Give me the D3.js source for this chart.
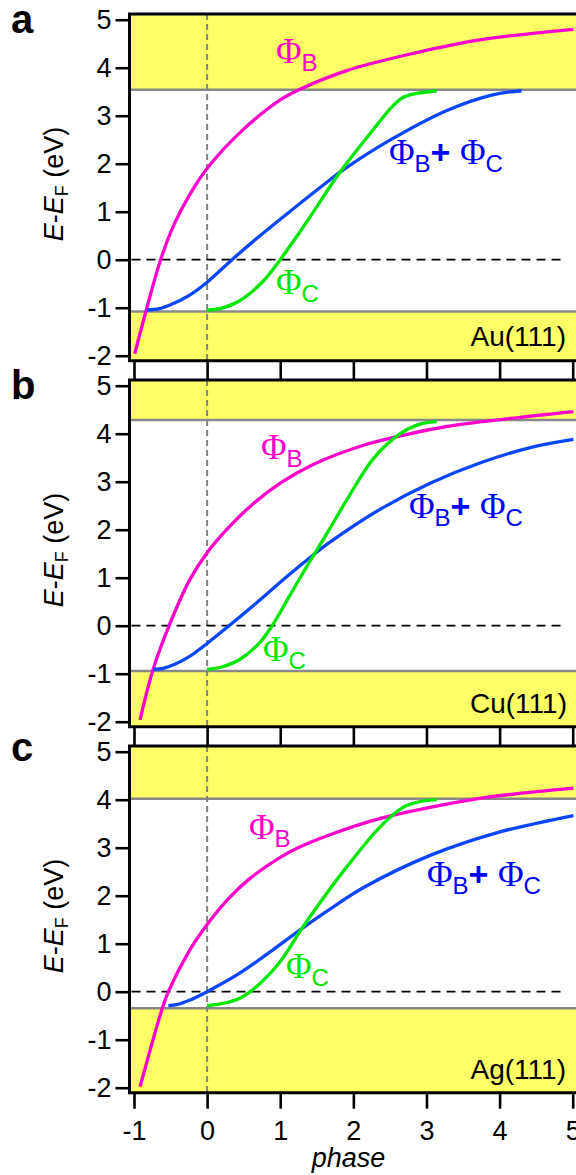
<!DOCTYPE html>
<html><head><meta charset="utf-8">
<script src="https://cdn.jsdelivr.net/npm/d3@7"></script>
<style>
body{margin:0;background:#fff}
svg{display:block}
text{font-family:"Liberation Sans",Arial,sans-serif}
</style>
</head><body>
<svg id="chart" width="576" height="1175"></svg>
<script>
// ---------- data ----------
const surfaces = ["Au(111)", "Cu(111)", "Ag(111)"];
const panelLetters = ["a", "b", "c"];
const xTickValues = [-1, 0, 1, 2, 3, 4, 5];
const yTickValues = [-2, -1, 0, 1, 2, 3, 4, 5];
const gapTop = [3.54, 4.285, 4.02];        // upper band edge (eV)
const gapBottom = [-1.08, -0.944, -0.346]; // lower band edge (eV)

// Au(111)
const auPhiBPhase = [-0.99, -0.82, -0.636, -0.45, -0.24, 0.02, 0.5, 1.0, 1.27, 1.91, 2.82, 3.73, 5.01];
const auPhiBE     = [-1.96, -0.98, 0, 0.74, 1.35, 1.94, 2.72, 3.33, 3.55, 3.94, 4.30, 4.58, 4.80];
const auSumPhase  = [-0.825, -0.65, -0.5, -0.25, 0, 0.34, 0.66, 1.12, 1.66, 1.87, 2.5, 3.28, 3.92, 4.30];
const auSumE      = [-1.05, -1.02, -0.94, -0.75, -0.47, 0, 0.42, 0.99, 1.64, 1.88, 2.49, 3.11, 3.44, 3.52];
const auPhiCPhase = [0, 0.2, 0.44, 0.76, 1.0, 1.26, 1.49, 1.67, 1.87, 2.23, 2.55, 2.68, 2.82, 3.14];
const auPhiCE     = [-1.05, -1.01, -0.86, -0.46, 0, 0.56, 1.08, 1.50, 1.93, 2.63, 3.22, 3.38, 3.45, 3.52];

// Cu(111)
const cuPhiBPhase = [-0.917, -0.74, -0.52, -0.24, 0, 0.26, 0.6, 1.0, 1.45, 2.14, 2.69, 3.28, 4.10, 5.01];
const cuPhiBE     = [-1.96, -0.92, 0, 0.95, 1.52, 1.99, 2.5, 2.97, 3.36, 3.76, 3.97, 4.15, 4.31, 4.46];
const cuSumPhase  = [-0.74, -0.6, -0.45, -0.25, 0, 0.30, 0.67, 1.12, 1.49, 1.67, 2.37, 3.05, 3.73, 4.42, 5.01];
const cuSumE      = [-0.91, -0.89, -0.81, -0.65, -0.37, 0, 0.47, 1.06, 1.52, 1.73, 2.43, 2.97, 3.39, 3.71, 3.88];
const cuPhiCPhase = [0, 0.2, 0.44, 0.71, 0.89, 1.12, 1.35, 1.49, 1.65, 1.91, 2.28, 2.64, 2.91, 3.14];
const cuPhiCE     = [-0.91, -0.86, -0.71, -0.37, 0, 0.6, 1.2, 1.55, 1.95, 2.62, 3.49, 4.0, 4.2, 4.25];

// Ag(111)
const agPhiBPhase = [-0.917, -0.62, -0.53, -0.24, 0, 0.28, 0.57, 1.0, 1.23, 1.68, 2.37, 3.05, 3.73, 5.01];
const agPhiBE     = [-1.98, -0.38, 0, 0.86, 1.40, 1.92, 2.34, 2.8, 2.99, 3.27, 3.61, 3.84, 4.03, 4.24];
const agSumPhase  = [-0.53, -0.4, -0.25, 0, 0.44, 0.89, 1.31, 1.67, 2.14, 3.05, 3.96, 5.01];
const agSumE      = [-0.29, -0.265, -0.185, 0, 0.38, 0.86, 1.33, 1.71, 2.17, 2.84, 3.31, 3.67];
const agPhiCPhase = [0, 0.2, 0.44, 0.67, 1.0, 1.31, 1.67, 1.91, 2.37, 2.69, 2.91, 3.14];
const agPhiCE     = [-0.29, -0.25, -0.14, 0.1, 0.63, 1.35, 2.12, 2.6, 3.44, 3.85, 3.96, 4.0];

const phiB = [[auPhiBPhase, auPhiBE], [cuPhiBPhase, cuPhiBE], [agPhiBPhase, agPhiBE]];
const phiSum = [[auSumPhase, auSumE], [cuSumPhase, cuSumE], [agSumPhase, agSumE]];
const phiC = [[auPhiCPhase, auPhiCE], [cuPhiCPhase, cuPhiCE], [agPhiCPhase, agPhiCE]];

// ---------- layout ----------
const panelStep = 366;
const frameLeft = 129.5, frameRight = 582;
const frameTopRel = 14, frameBotRel = 360.7;
const x = d3.scaleLinear().domain([-1, 5]).range([134, 572.7]);
const col = {B: "#ff00cc", sum: "#0a46ff", sumText: "#0000ff", C: "#00e600",
             yellow: "#ffff66", gray: "#888888"};
const labelLayout = [
  {B: [276, 63], S: [389, 164], C: [276, 294], M: [566, 346], L: 33},
  {B: [261, 93], S: [409, 152], C: [263, 295], M: [567, 347], L: 33},
  {B: [249, 107], S: [427, 154], C: [286, 246], M: [566, 347], L: 29}
];
const serif = "'Liberation Serif','Times New Roman',serif";

const svg = d3.select("#chart");

function phiLabel(g, pos, color, sub, plus) {
  const t = g.append("text").attr("x", pos[0]).attr("y", pos[1]).attr("fill", color);
  t.append("tspan").attr("font-family", serif).attr("font-size", 35).text("Φ");
  t.append("tspan").attr("font-size", 24).attr("dy", 8).text(sub[0]);
  if (plus) {
    t.append("tspan").attr("font-size", 34).attr("font-weight", "bold").attr("dy", -8).text("+ ");
    t.append("tspan").attr("font-family", serif).attr("font-size", 35).text("Φ");
    t.append("tspan").attr("font-size", 24).attr("dy", 8).text(sub[1]);
  }
}

surfaces.forEach((name, i) => {
  const off = i * panelStep;
  const y = d3.scaleLinear().domain([-2, 5]).range([355.7 + off, 19.7 + off]);
  const top = frameTopRel + off, bot = frameBotRel + off;
  const g = svg.append("g");

  // bands
  g.append("rect").attr("x", frameLeft).attr("y", top).attr("width", frameRight - frameLeft)
    .attr("height", y(gapTop[i]) - top).attr("fill", col.yellow);
  g.append("rect").attr("x", frameLeft).attr("y", y(gapBottom[i])).attr("width", frameRight - frameLeft)
    .attr("height", bot - y(gapBottom[i])).attr("fill", col.yellow);
  [gapTop[i], gapBottom[i]].forEach(v => {
    g.append("line").attr("x1", frameLeft).attr("x2", frameRight)
      .attr("y1", y(v)).attr("y2", y(v)).attr("stroke", col.gray).attr("stroke-width", 2.6);
  });

  // reference lines
  g.append("line").attr("x1", x(0)).attr("x2", x(0)).attr("y1", top).attr("y2", bot)
    .attr("stroke", "#808080").attr("stroke-width", 2).attr("stroke-dasharray", "6,4");
  g.append("line").attr("x1", frameLeft + 2).attr("x2", x(4.85)).attr("y1", y(0)).attr("y2", y(0))
    .attr("stroke", "#000").attr("stroke-width", 1.8).attr("stroke-dasharray", "9,6");

  // curves
  const line = d3.line().x(d => x(d[0])).y(d => y(d[1])).curve(d3.curveCatmullRom.alpha(0.5));
  const series = [[phiB[i], col.B], [phiSum[i], col.sum], [phiC[i], col.C]];
  series.forEach(([s, c]) => {
    const pts = s[0].map((p, k) => [p, s[1][k]]);
    g.append("path").datum(pts).attr("d", line).attr("fill", "none")
      .attr("stroke", c).attr("stroke-width", 3.3).attr("stroke-linecap", "butt");
  });

  // frame
  g.append("path")
    .attr("d", `M${frameRight},${top}H${frameLeft}V${bot}H${frameRight}`)
    .attr("fill", "none").attr("stroke", "#000").attr("stroke-width", 3);

  // y axis ticks & labels
  const yAxis = d3.axisLeft(y).tickValues(yTickValues).tickSize(14).tickSizeOuter(0)
    .tickPadding(4).tickFormat(d => String(d));
  const ya = g.append("g").attr("transform", `translate(${frameLeft},0)`).call(yAxis);
  ya.select(".domain").remove();
  ya.selectAll(".tick line").attr("stroke", "#000").attr("stroke-width", 2.6);
  ya.selectAll(".tick text").attr("font-size", 27).attr("fill", "#000")
    .attr("font-family", "'Liberation Sans',Arial,sans-serif");

  // x ticks
  const tickLen = i < 2 ? (frameTopRel + panelStep - frameBotRel) : 16;
  const xAxis = d3.axisBottom(x).tickValues(xTickValues).tickSize(tickLen).tickSizeOuter(0)
    .tickPadding(12).tickFormat(i === 2 ? (d => String(d)) : "");
  const xa = g.append("g").attr("transform", `translate(0,${bot})`).call(xAxis);
  xa.select(".domain").remove();
  xa.selectAll(".tick line").attr("stroke", "#000").attr("stroke-width", 2.6);
  xa.selectAll(".tick text").attr("font-size", 27).attr("fill", "#000")
    .attr("font-family", "'Liberation Sans',Arial,sans-serif");

  // y axis title
  const yt = g.append("text").attr("transform", `translate(63,${184 + off}) rotate(-90)`)
    .attr("text-anchor", "middle").attr("font-size", 27).attr("fill", "#000");
  yt.append("tspan").attr("font-style", "italic").text("E");
  yt.append("tspan").text("-");
  yt.append("tspan").attr("font-style", "italic").text("E");
  yt.append("tspan").attr("font-size", 18).attr("dy", 5).text("F");
  yt.append("tspan").attr("dy", -5).text(" (eV)");

  // labels
  const L = labelLayout[i];
  phiLabel(g, [L.B[0], L.B[1] + off], col.B, ["B"], false);
  phiLabel(g, [L.S[0], L.S[1] + off], col.sumText, ["B", "C"], true);
  phiLabel(g, [L.C[0], L.C[1] + off], col.C, ["C"], false);
  g.append("text").attr("x", L.M[0]).attr("y", L.M[1] + off).attr("text-anchor", "end")
    .attr("font-size", 28).attr("fill", "#000").text(name);
  g.append("text").attr("x", 11).attr("y", L.L + off).attr("font-size", 40)
    .attr("font-weight", "bold").attr("fill", "#000").text(panelLetters[i]);
});

svg.append("text").attr("x", 348.5).attr("y", 1167).attr("text-anchor", "middle")
  .attr("font-size", 27).attr("font-style", "italic").attr("fill", "#000").text("phase");
</script>
</body></html>
